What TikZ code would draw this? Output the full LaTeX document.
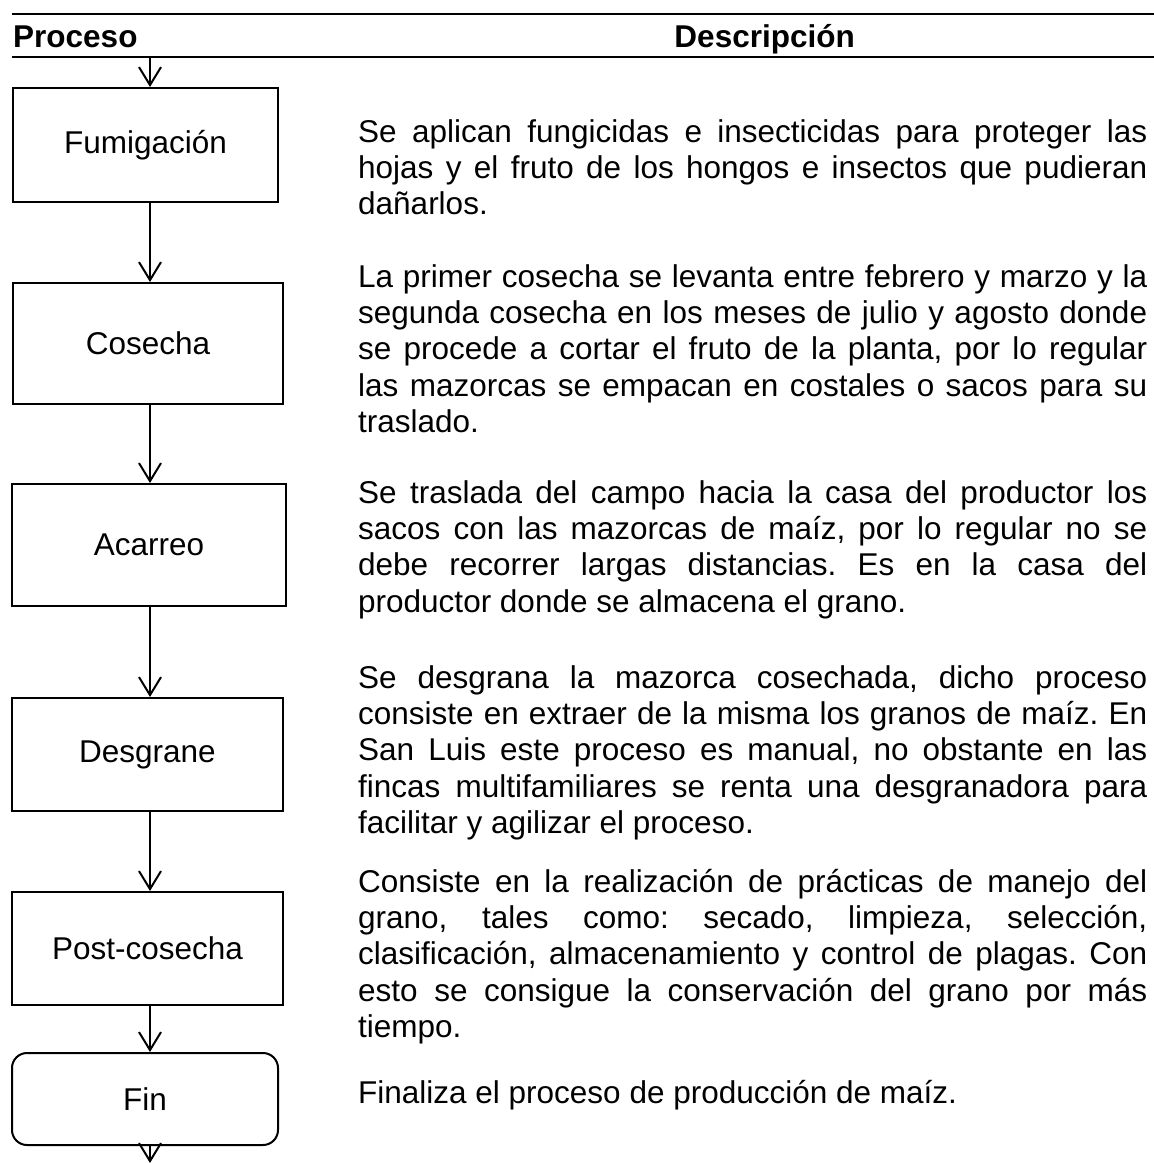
\documentclass[tikz,border=0pt]{standalone}
\usepackage{fontspec}
\setmainfont{Liberation Sans}
\usetikzlibrary{arrows.meta}
\frenchspacing
\begin{document}
\begin{tikzpicture}[x=1pt,y=1pt,
  txt/.style={font=\fontsize{31.5}{36.4}\selectfont},
  box/.style={txt, draw, line width=2pt, inner sep=0pt},
  arr/.style={line width=2pt, -{Straight Barb[length=18pt,width=22pt]}},
  desc/.style={txt, anchor=base west, inner sep=0pt, text width=789pt, align=justify,
    execute at begin node={\frenchspacing\tolerance=10000\hyphenpenalty=10000\emergencystretch=20pt}},
  head/.style={txt, inner sep=0pt, font=\fontsize{31.5}{36.4}\selectfont\bfseries},
  rule/.style={line width=2pt}]
\useasboundingbox (0,0) rectangle (1154,-1163);

% rules and header
\coordinate (r1l) at (12,-14);
\coordinate (r1r) at (1154,-14);
\coordinate (r2l) at (12,-57);
\coordinate (r2r) at (1154,-57);
\draw[rule] (r1l) -- (r1r);
\draw[rule] (r2l) -- (r2r);
\node[head, anchor=base west] (hproc) at (13,-47) {Proceso};
\node[head, anchor=base east] (hdesc) at (855,-47) {Descripción};

% process boxes
\node[box, minimum width=265pt, minimum height=114pt] (b1) at (145.5,-145) {Fumigación};
\node[box, minimum width=270pt, minimum height=121pt] (b2) at (148,-343.5) {Cosecha};
\node[box, minimum width=274pt, minimum height=122pt] (b3) at (149,-545) {Acarreo};
\node[box, minimum width=271pt, minimum height=113pt] (b4) at (147.5,-754.5) {Desgrane};
\node[box, minimum width=271pt, minimum height=113pt] (b5) at (147.5,-948.5) {Post-cosecha};
\node[box, rounded corners=15pt, minimum width=266pt, minimum height=92pt] (b6) at (145,-1099) {Fin};

% arrows
\coordinate (ax) at (150,0);
\coordinate (start) at (150,-57);
\coordinate (endp) at (150,-1163);
\draw[arr] (start) -- (b1.north -| ax);
\draw[arr] (b1.south -| ax) -- (b2.north -| ax);
\draw[arr] (b2.south -| ax) -- (b3.north -| ax);
\draw[arr] (b3.south -| ax) -- (b4.north -| ax);
\draw[arr] (b4.south -| ax) -- (b5.north -| ax);
\draw[arr] (b5.south -| ax) -- (b6.north -| ax);
\draw[arr] (b6.south -| ax) -- (endp);

% descriptions
\node[desc] (d1) at (358,-142) {Se aplican fungicidas e insecticidas para proteger las\linebreak
hojas y el fruto de los hongos e insectos que pudieran\linebreak
dañarlos.};
\node[desc] (d2) at (358,-287) {La primer cosecha se levanta entre febrero y marzo y la\linebreak
segunda cosecha en los meses de julio y agosto donde\linebreak
se procede a cortar el fruto de la planta, por lo regular\linebreak
las mazorcas se empacan en costales o sacos para su\linebreak
traslado.};
\node[desc] (d3) at (358,-503) {Se traslada del campo hacia la casa del productor los\linebreak
sacos con las mazorcas de maíz, por lo regular no se\linebreak
debe recorrer largas distancias. Es en la casa del\linebreak
productor donde se almacena el grano.};
\node[desc] (d4) at (358,-688) {Se desgrana la mazorca cosechada, dicho proceso\linebreak
consiste en extraer de la misma los granos de maíz. En\linebreak
San Luis este proceso es manual, no obstante en las\linebreak
fincas multifamiliares se renta una desgranadora para\linebreak
facilitar y agilizar el proceso.};
\node[desc] (d5) at (358,-892) {Consiste en la realización de prácticas de manejo del\linebreak
grano, tales como: secado, limpieza, selección,\linebreak
clasificación, almacenamiento y control de plagas. Con\linebreak
esto se consigue la conservación del grano por más\linebreak
tiempo.};
\node[desc] (d6) at (358,-1103) {Finaliza el proceso de producción de maíz.};
\end{tikzpicture}
\end{document}
